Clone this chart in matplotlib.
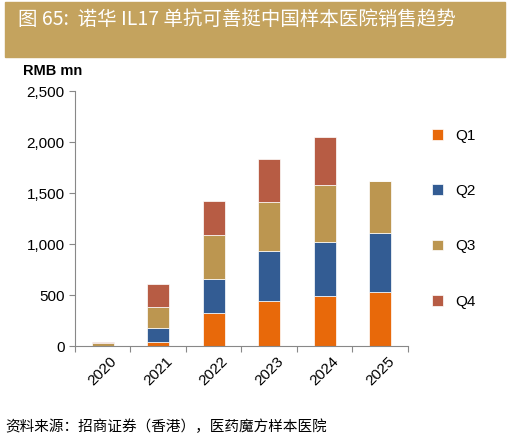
import matplotlib.pyplot as plt
import matplotlib.ticker as ticker
import numpy as np

plt.rcParams['font.family'] = ['Liberation Sans', 'Noto Sans CJK SC', 'DejaVu Sans']

years = ['2020', '2021', '2022', '2023', '2024', '2025']
q1 = [0, 40, 325, 440, 495, 535]
q2 = [0, 140, 335, 495, 530, 570]
q3 = [28, 205, 425, 475, 550, 515]
q4 = [12, 220, 335, 425, 475, 0]
labels = ['Q1', 'Q2', 'Q3', 'Q4']
colors = ['#E8690A', '#335C93', '#BC9650', '#B75C44']

fig = plt.figure(figsize=(5.10, 4.42), dpi=100)

# title banner
fig.patches.append(plt.Rectangle((0.01, 0.87), 0.98, 0.125, transform=fig.transFigure,
                                 color='#C4A35E', zorder=0))
fig.text(0.035, 0.955, '图 65:  诺华 IL17 单抗可善挺中国样本医院销售趋势', color='white',
         fontsize=14, va='center', family=['Noto Sans CJK SC', 'DejaVu Sans'])
fig.text(0.045, 0.84, 'RMB mn', fontsize=10.5, fontweight='bold', va='center')
fig.text(0.01, 0.035, '资料来源：招商证券（香港），医药魔方样本医院', fontsize=10.5, style='italic',
         va='center', family=['Noto Sans CJK SC', 'DejaVu Sans'])

ax = fig.add_axes([0.147, 0.217, 0.653, 0.577])
x = np.arange(len(years))
bottom = np.zeros(len(years))
for vals, lab, c in zip([q1, q2, q3, q4], labels, colors):
    ax.bar(x, vals, 0.4, bottom=bottom, color=c, edgecolor='white', linewidth=0.5, label=lab)
    bottom += np.array(vals)

ax.set_ylim(0, 2500)
ax.set_xlim(-0.5, len(years) - 0.5)
ax.yaxis.set_major_locator(ticker.MultipleLocator(500))
ax.yaxis.set_major_formatter(ticker.FuncFormatter(lambda v, p: f'{int(v):,}'))
ax.set_xticks(np.arange(-0.5, len(years), 1), minor=False)
ax.set_xticklabels([])
ax.set_xticks(x, minor=True)
ax.set_xticklabels(years, minor=True, rotation=45, fontsize=11)
ax.tick_params(axis='x', which='minor', length=0, pad=6)
ax.tick_params(axis='x', which='major', length=4, color='#888888', direction='out')
ax.tick_params(axis='y', length=4, color='#888888', labelsize=11)
for s in ['top', 'right']:
    ax.spines[s].set_visible(False)
for s in ['left', 'bottom']:
    ax.spines[s].set_color('#888888')

handles, labs = ax.get_legend_handles_labels()
fig.legend(handles, labs, loc='center left', bbox_to_anchor=(0.82, 0.505), frameon=False,
           fontsize=11, labelspacing=2.7, handlelength=0.7, handleheight=0.7)

plt.savefig('out.png', dpi=100)
